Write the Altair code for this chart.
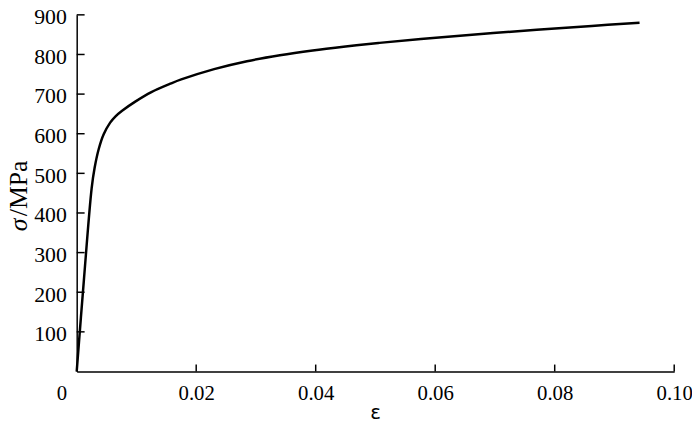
import altair as alt
import pandas as pd

# Stress-strain curve
eps = [0, 0.0012, 0.0025, 0.0030, 0.0037, 0.0045, 0.0056, 0.0065, 0.0076, 0.0098,
       0.0125, 0.0158, 0.0175, 0.023, 0.0285, 0.034, 0.0395, 0.045, 0.0505,
       0.0576, 0.0697, 0.0862, 0.0942]
sigma = [0, 230, 462, 514, 562, 598, 628, 644, 658, 681,
         705, 727, 737, 763, 783, 798, 810, 820, 829,
         839, 854, 872, 880]

x_ticks = [0.02, 0.04, 0.06, 0.08, 0.10]
y_ticks = [100, 200, 300, 400, 500, 600, 700, 800, 900]

W = 604.5
H = 360.8
X_MAX = 0.1
Y_MAX = 900
SERIF = "Liberation Serif, Times New Roman, serif"

# inward tick lengths (pixels) converted to data units
XT_LEN = 7 / H * Y_MAX
YT_LEN = 8 / W * X_MAX

df = pd.DataFrame({"eps": eps, "sigma": sigma})
xt = pd.DataFrame({"eps": x_ticks, "s0": 0.0, "s1": XT_LEN})
yt = pd.DataFrame({"sigma": y_ticks, "e0": 0.0, "e1": YT_LEN})

xscale = alt.Scale(domain=[0, X_MAX], nice=False, zero=True)
yscale = alt.Scale(domain=[0, Y_MAX], nice=False, zero=True)

xaxis = alt.Axis(values=x_ticks, format=".2f", tickSize=0, labelPadding=11.5,
                 grid=False, title=None, domainColor="black", domainWidth=1.5,
                 labelFont=SERIF, labelFontSize=21, labelColor="black",
                 labelFlush=False, labelOverlap=False)
yaxis = alt.Axis(values=y_ticks, format="d", tickSize=0, labelPadding=10.5,
                 labelOffset=2,
                 grid=False, title=None, domainColor="black", domainWidth=1.5,
                 labelFont=SERIF, labelFontSize=22, labelColor="black",
                 labelFlush=False, labelOverlap=False)

curve = alt.Chart(df).mark_line(color="black", strokeWidth=2.5,
                                interpolate="catmull-rom").encode(
    x=alt.X("eps:Q", scale=xscale, axis=xaxis),
    y=alt.Y("sigma:Q", scale=yscale, axis=yaxis),
)

xtick_rules = alt.Chart(xt).mark_rule(color="black", strokeWidth=1.5).encode(
    x=alt.X("eps:Q", scale=xscale),
    y=alt.Y("s0:Q", scale=yscale),
    y2="s1:Q",
)

ytick_rules = alt.Chart(yt).mark_rule(color="black", strokeWidth=1.5).encode(
    y=alt.Y("sigma:Q", scale=yscale),
    x=alt.X("e0:Q", scale=xscale),
    x2="e1:Q",
)

zero_label = alt.Chart(pd.DataFrame({"eps": [0], "t": ["0"]})).mark_text(
    font=SERIF, fontSize=21, color="black", baseline="top", align="center", dx=-15
).encode(
    x=alt.X("eps:Q", scale=xscale),
    y=alt.value(H + 11.5),
    text="t:N",
)

x_title = alt.Chart(pd.DataFrame({"t": ["ε"]})).mark_text(
    font="DejaVu Sans", fontSize=20, color="black", baseline="alphabetic", align="center"
).encode(x=alt.value(302.5), y=alt.value(409), text="t:N")

y_title_a = alt.Chart(pd.DataFrame({"t": ["σ"]})).mark_text(
    font=SERIF, fontSize=26, fontStyle="italic", color="black",
    baseline="alphabetic", align="center", angle=270
).encode(x=alt.value(-50), y=alt.value(212.5), text="t:N")

y_title_b = alt.Chart(pd.DataFrame({"t": ["/MPa"]})).mark_text(
    font=SERIF, fontSize=26, color="black",
    baseline="alphabetic", align="center", angle=270
).encode(x=alt.value(-50), y=alt.value(175.5), text="t:N")

chart = alt.layer(curve, xtick_rules, ytick_rules, zero_label, x_title,
                  y_title_a, y_title_b).properties(
    width=W, height=H,
    autosize=alt.AutoSizeParams(type="none"),
    padding={"left": 69.5, "top": 4.5, "right": 18, "bottom": 50},
).configure_view(stroke=None).configure_axis(
    labelFont=SERIF, labelFontSize=21, labelColor="black",
    domainColor="black", grid=False,
)

chart.save("out.html", embed_options={"renderer": "svg", "actions": False})
